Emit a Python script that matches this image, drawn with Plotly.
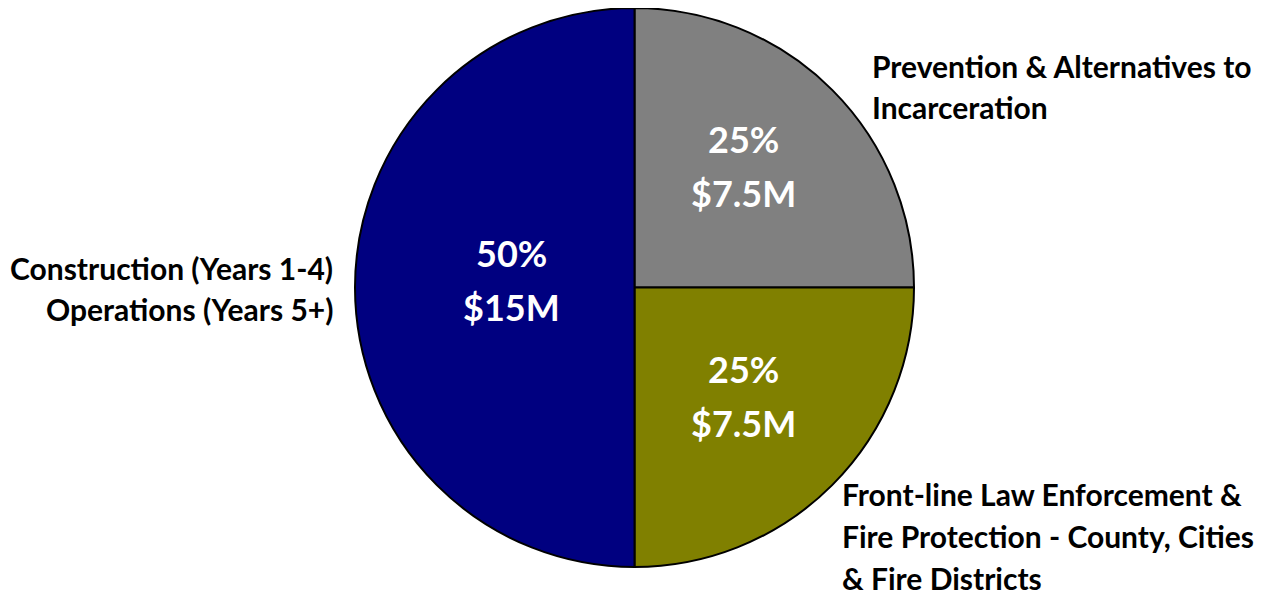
import math
import plotly.graph_objects as go

# ---- data ----
categories = [
    "Prevention & Alternatives to Incarceration",
    "Front-line Law Enforcement & Fire Protection - County, Cities & Fire Districts",
    "Construction (Years 1-4) Operations (Years 5+)",
]
values_musd = [7.5, 7.5, 15]
label_lines = [
    ["Prevention & Alternatives to", "Incarceration"],
    ["Front-line Law Enforcement &", "Fire Protection - County, Cities", "& Fire Districts"],
    ["Construction (Years 1-4)", "Operations (Years 5+)"],
]
colors = ["#808080", "#808000", "#000080"]

# ---- layout geometry (pixels in the screenshot) ----
W, H = 1264, 595
OFF = 8  # page body margin
cx, cy, R = 634.5, 287.5, 279.5
inner_r = [0.585, 0.55, 0.44]      # radial fraction of inside label
inner_dang = [-3.0, 0.0, 3.5]      # angular nudge (deg, clockwise)
inner_gap = 27
FONT = "Lato"


def fx(px):
    return min(1.0, max(0.0, (px - OFF) / W))


def fy(py):
    return min(1.0, max(0.0, 1 - (py - OFF) / H))


outer_pos = [  # x anchor px, xanchor, first-line y px, line step
    (873, "left", 66, 41),
    (843, "left", 494, 42),
    (332, "right", 268, 41),
]

fig = go.Figure(
    go.Pie(
        labels=categories,
        values=values_musd,
        sort=False,
        direction="clockwise",
        rotation=0,
        marker=dict(colors=colors, line=dict(color="black", width=2)),
        textinfo="none",
        hoverinfo="label+value+percent",
        showlegend=False,
        domain=dict(x=[fx(cx - R), fx(cx + R)], y=[fy(cy + R), fy(cy - R)]),
    )
)

total = sum(values_musd)
ann = []
cum = 0
for i, v in enumerate(values_musd):
    mid = (cum + v / 2) / total
    cum += v
    th = 2 * math.pi * mid + math.radians(inner_dang[i])
    r = inner_r[i] * R
    px = cx + r * math.sin(th)
    py = cy - r * math.cos(th)
    pct = 100 * v / total
    for j, t in enumerate([f"{pct:.0f}%", f"${v:g}M"]):
        yy = py + (j - 0.5) * 2 * inner_gap
        ann.append(dict(x=fx(px), y=fy(yy), xref="paper", yref="paper", text=t,
                        showarrow=False, xanchor="center", yanchor="middle",
                        font=dict(family=FONT, size=36, color="white", weight="bold")))

for i, lines in enumerate(label_lines):
    x0, xa, y0, step = outer_pos[i]
    for j, t in enumerate(lines):
        yy = y0 + j * step
        ann.append(dict(x=fx(x0), y=fy(yy), xref="paper", yref="paper", text=t,
                        showarrow=False, xanchor=xa, yanchor="middle",
                        xshift=(-3 if xa == "left" else 3),
                        font=dict(family=FONT, size=30, color="black", weight="bold")))

fig.update_layout(
    width=W, height=H,
    margin=dict(l=0, r=0, t=0, b=0),
    paper_bgcolor="white",
    plot_bgcolor="white",
    annotations=ann,
)
fig.write_html("out.html")
